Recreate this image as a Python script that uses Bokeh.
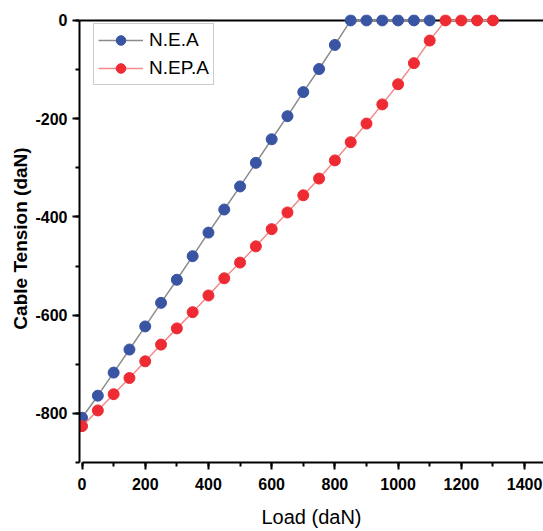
from bokeh.plotting import figure
from bokeh.models import Range1d, SingleIntervalTicker, Span, PrintfTickFormatter
from bokeh.embed import file_html
from bokeh.resources import INLINE

# Cable tension (daN) versus applied load (daN)
load_nea = [0, 50, 100, 150, 200, 250, 300, 350, 400, 450, 500, 550,
            600, 650, 700, 750, 800, 850, 900, 950, 1000, 1050, 1100]
tension_nea = [-809, -764, -717, -670, -623, -575, -528, -480, -432, -385, -338, -290,
               -242, -195, -146, -99, -50, 0, 0, 0, 0, 0, 0]

load_nepa = [0, 50, 100, 150, 200, 250, 300, 350, 400, 450, 500, 550, 600,
             650, 700, 750, 800, 850, 900, 950, 1000, 1050, 1100, 1150, 1200, 1250, 1300]
tension_nepa = [-826, -794, -761, -728, -694, -660, -627, -594, -560, -525, -493, -460, -425,
                -391, -356, -322, -285, -248, -210, -171, -130, -87, -41, 0, 0, 0, 0]

FONT = "Liberation Sans"
BLUE = "#3A54A4"
RED = "#EE2B33"

p = figure(width=543, height=531, output_backend="svg", toolbar_location=None,
           x_range=Range1d(-8, 1460), y_range=Range1d(-900, 12),
           min_border_left=79, min_border_right=0, min_border_top=14, min_border_bottom=69)
p.background_fill_color = "white"
p.border_fill_color = "white"
p.outline_line_color = None
p.xgrid.visible = False
p.ygrid.visible = False

# top border line at zero tension
p.add_layout(Span(location=0, dimension="width", line_color="black", line_width=2, level="underlay"))

p.line(load_nea, tension_nea, line_color="#8C8C8C", line_width=1.5, legend_label="N.E.A")
p.scatter(load_nea, tension_nea, size=11, fill_color=BLUE, line_color=BLUE, legend_label="N.E.A")
p.line(load_nepa, tension_nepa, line_color="#F28B8B", line_width=1.5, legend_label="N.EP.A")
p.scatter(load_nepa, tension_nepa, size=11, fill_color=RED, line_color=RED, legend_label="N.EP.A")

for ax in (p.xaxis[0], p.yaxis[0]):
    ax.axis_line_width = 2
    ax.axis_line_color = "black"
    ax.major_tick_line_width = 2
    ax.minor_tick_line_width = 2
    ax.major_tick_in = 0
    ax.major_tick_out = 7
    ax.minor_tick_in = 0
    ax.minor_tick_out = 4
    ax.major_label_text_font = FONT
    ax.major_label_text_font_style = "bold"
    ax.major_label_text_font_size = "16px"
    ax.major_label_text_color = "black"
    ax.axis_label_text_font = FONT
    ax.axis_label_text_font_size = "20px"
    ax.axis_label_text_color = "black"
    ax.formatter = PrintfTickFormatter(format="%d")

p.xaxis.ticker = SingleIntervalTicker(interval=200, num_minor_ticks=2)
p.yaxis.ticker = SingleIntervalTicker(interval=200, num_minor_ticks=2)
p.yaxis.bounds = (-900, 0)
p.xaxis.bounds = (0, 1460)

p.xaxis.axis_label = "Load (daN)"
p.xaxis.axis_label_text_font_style = "normal"
p.xaxis.major_label_standoff = 8
p.xaxis.axis_label_standoff = 13

p.yaxis.axis_label = "Cable Tension (daN)"
p.yaxis.axis_label_text_font_style = "bold"
p.yaxis.axis_label_text_font_size = "19px"
p.yaxis.major_label_standoff = 5
p.yaxis.axis_label_standoff = 1

leg = p.legend[0]
leg.location = (14, 377)
leg.label_text_font = FONT
leg.label_text_font_size = "19px"
leg.label_text_color = "black"
leg.glyph_width = 45
leg.glyph_height = 24
leg.label_standoff = 6
leg.label_height = 24
leg.spacing = 4
leg.padding = 4
leg.margin = 0
leg.border_line_color = "#9A9A9A"
leg.border_line_width = 1.5
leg.background_fill_color = "white"
leg.background_fill_alpha = 1

open("out.html", "w").write(file_html(p, INLINE))
